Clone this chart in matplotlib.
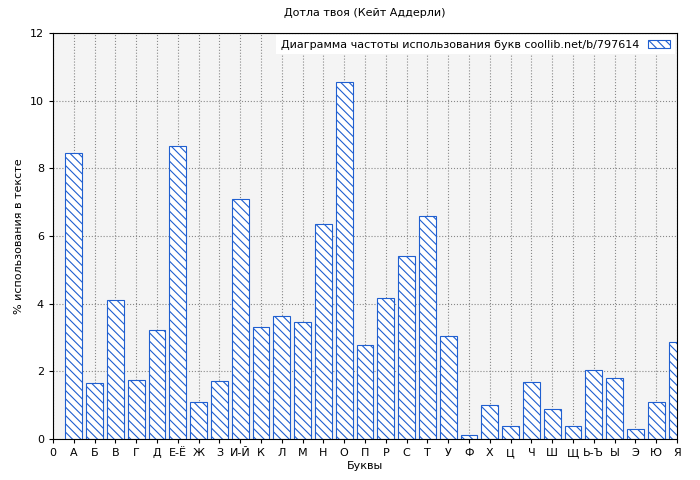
import matplotlib.pyplot as plt
import numpy as np

letters = ['А', 'Б', 'В', 'Г', 'Д', 'Е-Ё', 'Ж', 'З', 'И-Й', 'К', 'Л', 'М', 'Н', 'О', 'П',
           'Р', 'С', 'Т', 'У', 'Ф', 'Х', 'Ц', 'Ч', 'Ш', 'Щ', 'Ь-Ъ', 'Ы', 'Э', 'Ю', 'Я']
values = [8.45, 1.65, 4.1, 1.75, 3.22, 8.65, 1.1, 1.7, 7.1, 3.3, 3.65, 3.45, 6.35, 10.55, 2.78,
          4.17, 5.42, 6.58, 3.05, 0.12, 1.0, 0.37, 1.67, 0.9, 0.37, 2.05, 1.8, 0.3, 1.1, 2.88]

plt.rcParams['hatch.color'] = '#1f5fd0'
plt.rcParams['hatch.linewidth'] = 0.8
fig = plt.figure(figsize=(7, 4.8), dpi=100)
ax = fig.add_axes([53/700, 41/480, 624/700, 406/480])
ax.set_facecolor('#f4f4f4')
x = np.arange(1, len(letters) + 1)
ax.bar(x, values, width=0.8, facecolor='white', edgecolor='#1f5fd0', hatch='\\\\\\\\',
       linewidth=0.8, label='Диаграмма частоты использования букв coollib.net/b/797614', zorder=2)
ax.set_xlim(0, 30)
ax.set_ylim(0, 12)
ax.set_xticks(np.arange(0, 31))
ax.set_xticklabels(['0'] + letters, fontsize=8)
ax.set_yticks(range(0, 13, 2))
ax.tick_params(labelsize=8, length=3)
ax.grid(True, linestyle=':', color='#888888', linewidth=0.8, zorder=0)
ax.set_axisbelow(True)
ax.set_xlabel('Буквы', fontsize=8, labelpad=2)
ax.set_ylabel('% использования в тексте', fontsize=8)
ax.set_title('Дотла твоя (Кейт Аддерли)', fontsize=8, pad=12)
leg = ax.legend(loc='upper right', fontsize=8, frameon=True, fancybox=False,
                edgecolor='none', framealpha=1, markerfirst=False, borderaxespad=0.2)
fig.savefig('out.png')
